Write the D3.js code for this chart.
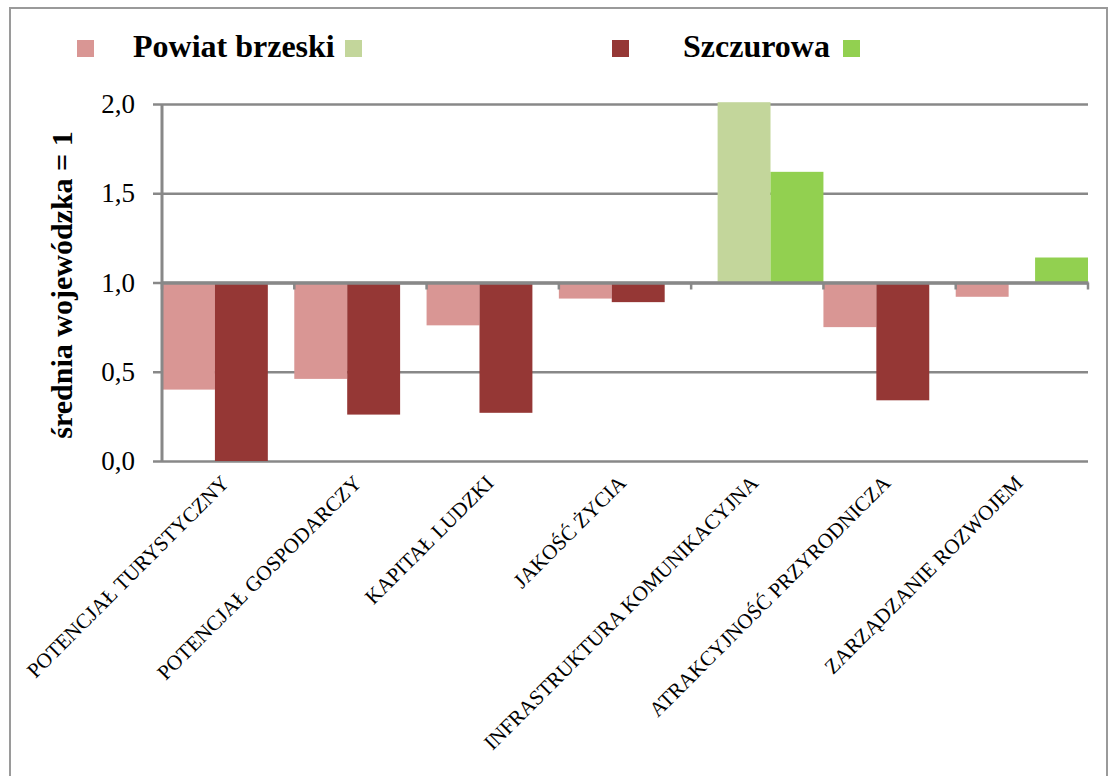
<!DOCTYPE html>
<html>
<head>
<meta charset="utf-8">
<script src="https://cdn.jsdelivr.net/npm/d3@7"></script>
<style>
  body { margin: 0; background: #fff; }
  svg text { font-family: "Liberation Serif", "DejaVu Serif", serif !important; }
</style>
</head>
<body>
<svg id="chart" width="1112" height="776" font-family="Liberation Serif, DejaVu Serif, serif"></svg>
<script>
// data (średnia wojewódzka = 1)
const categories = [
  "POTENCJAŁ TURYSTYCZNY",
  "POTENCJAŁ GOSPODARCZY",
  "KAPITAŁ LUDZKI",
  "JAKOŚĆ ŻYCIA",
  "INFRASTRUKTURA KOMUNIKACYJNA",
  "ATRAKCYJNOŚĆ PRZYRODNICZA",
  "ZARZĄDZANIE ROZWOJEM"
];
const powiatValues = [0.40, 0.46, 0.76, 0.91, 2.01, 0.75, 0.92];
const szczurowaValues = [0.00, 0.26, 0.27, 0.89, 1.62, 0.34, 1.14];
const yTicks = [0, 0.5, 1, 1.5, 2];
const baseline = 1;

// four excel-style series: below / above the baseline for each unit
const seriesKeys = ["powiatLow", "powiatHigh", "szczLow", "szczHigh"];
const seriesColors = {
  powiatLow: "#d99694",
  powiatHigh: "#c3d69b",
  szczLow: "#953735",
  szczHigh: "#92d050"
};
const legendItems = [
  { key: "powiatLow", label: "Powiat brzeski", x: 77, tx: 133 },
  { key: "powiatHigh", label: "", x: 345 },
  { key: "szczLow", label: "Szczurowa", x: 612, tx: 683 },
  { key: "szczHigh", label: "", x: 843 }
];

const FONT = "Liberation Serif, DejaVu Serif, serif";
const svg = d3.select("#chart");
const plot = { left: 162, right: 1088, top: 104, bottom: 461 };
const gridColor = "#888888";

// outer frame
svg.append("rect")
  .attr("x", 10).attr("y", 8)
  .attr("width", 1097).attr("height", 820)
  .attr("fill", "none")
  .attr("stroke", "#9a9a9a")
  .attr("stroke-width", 2);

const x = d3.scaleBand()
  .domain(categories)
  .range([plot.left, plot.right]);

const y = d3.scaleLinear()
  .domain([0, 2])
  .range([plot.bottom, plot.top]);

// bars overlap by half, like the original
const xSub = d3.scalePoint()
  .domain(seriesKeys)
  .range([0, x.bandwidth() * 0.6]);
const barW = x.bandwidth() * 0.4;

// gridlines + y axis
const yAxis = d3.axisLeft(y)
  .tickValues(yTicks)
  .tickSize(-(plot.right - plot.left))
  .tickPadding(27)
  .tickFormat(d => d3.format(".1f")(d).replace(".", ","));

const gy = svg.append("g")
  .attr("transform", `translate(${plot.left},0)`)
  .call(yAxis)
  .attr("font-family", FONT);
gy.select(".domain").remove();
gy.selectAll(".tick line")
  .attr("x1", -9)
  .attr("stroke", gridColor)
  .attr("stroke-width", 2.5);
gy.selectAll(".tick text")
  .attr("font-size", 27)
  .attr("fill", "#000");

// bars
const rows = [];
categories.forEach((c, i) => {
  const p = powiatValues[i];
  const s = szczurowaValues[i];
  rows.push({ cat: c, key: p < baseline ? "powiatLow" : "powiatHigh", value: p });
  rows.push({ cat: c, key: s < baseline ? "szczLow" : "szczHigh", value: s });
});

svg.append("g")
  .selectAll("rect")
  .data(rows)
  .join("rect")
  .attr("x", d => x(d.cat) + xSub(d.key))
  .attr("width", barW)
  .attr("y", d => y(Math.max(d.value, baseline)))
  .attr("height", d => Math.abs(y(d.value) - y(baseline)))
  .attr("fill", d => seriesColors[d.key]);

// vertical axis line
svg.append("line")
  .attr("x1", plot.left).attr("x2", plot.left)
  .attr("y1", y(2)).attr("y2", y(0))
  .attr("stroke", gridColor)
  .attr("stroke-width", 3);

// category axis crosses at 1,0 with ticks between categories
const xAxis = d3.axisBottom(x).tickSize(0).tickFormat("");
const gx = svg.append("g")
  .attr("transform", `translate(0,${y(baseline)})`)
  .call(xAxis);
gx.select(".domain")
  .attr("stroke", gridColor)
  .attr("stroke-width", 3.5);
gx.selectAll(".tick").remove();
gx.selectAll(".bound")
  .data(categories.concat([null]))
  .join("line")
  .attr("x1", (d, i) => plot.left + i * x.step())
  .attr("x2", (d, i) => plot.left + i * x.step())
  .attr("y1", 0).attr("y2", 7)
  .attr("stroke", gridColor)
  .attr("stroke-width", 2.5);

// rotated category labels under the plot
svg.append("g")
  .selectAll("text")
  .data(categories)
  .join("text")
  .attr("transform", d => `translate(${x(d) + x.bandwidth() / 2 - 3},${plot.bottom + 18}) rotate(-45)`)
  .attr("text-anchor", "end")
  .attr("dy", "0.35em")
  .attr("font-family", FONT)
  .attr("font-size", 21)
  .attr("fill", "#000")
  .text(d => d);

// y title
svg.append("text")
  .attr("transform", `translate(72,285) rotate(-90)`)
  .attr("text-anchor", "middle")
  .attr("font-family", FONT)
  .attr("font-size", 30)
  .attr("font-weight", "bold")
  .text("średnia wojewódzka = 1");

// legend
const legend = svg.append("g");
legendItems.forEach(item => {
  legend.append("rect")
    .attr("x", item.x).attr("y", 40)
    .attr("width", 17).attr("height", 17)
    .attr("fill", seriesColors[item.key]);
  if (item.label) {
    legend.append("text")
      .attr("x", item.tx)
      .attr("y", 57)
      .attr("font-family", FONT)
      .attr("font-size", 32)
      .attr("font-weight", "bold")
      .text(item.label);
  }
});
</script>
</body>
</html>
